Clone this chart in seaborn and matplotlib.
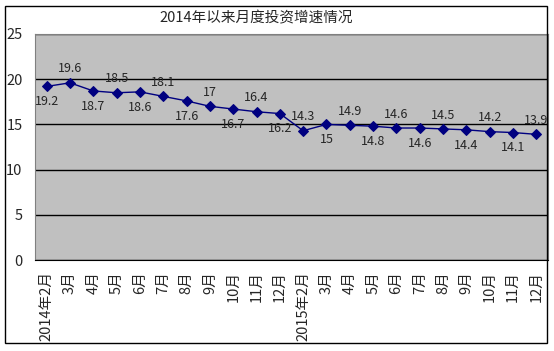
import numpy as np
import pandas as pd
import matplotlib
matplotlib.use("Agg")
import matplotlib.pyplot as plt
import seaborn as sns
from matplotlib.patches import Rectangle

# dados do gráfico
meses = ['2014年2月', '3月', '4月', '5月', '6月', '7月', '8月', '9月', '10月', '11月', '12月',
         '2015年2月', '3月', '4月', '5月', '6月', '7月', '8月', '9月', '10月', '11月', '12月']
valores = [19.2, 19.6, 18.7, 18.5, 18.6, 18.1, 17.6, 17, 16.7, 16.4, 16.2,
           14.3, 15, 14.9, 14.8, 14.6, 14.6, 14.5, 14.4, 14.2, 14.1, 13.9]
rotulos = ['19.2', '19.6', '18.7', '18.5', '18.6', '18.1', '17.6', '17', '16.7', '16.4', '16.2',
           '14.3', '15', '14.9', '14.8', '14.6', '14.6', '14.5', '14.4', '14.2', '14.1', '13.9']
titulo = '2014年以来月度投资增速情况'

sns.set_style("white")
plt.rcParams['font.family'] = ['Noto Sans CJK SC', 'DejaVu Sans']

W, H = 554, 351
fig = plt.figure(figsize=(W / 100, H / 100), dpi=100)
ax = fig.add_axes([35 / W, 1 - 260 / H, (548 - 35) / W, (260 - 34) / H])

df = pd.DataFrame({'pos': np.arange(len(meses)), 'valor': valores})
sns.lineplot(data=df, x='pos', y='valor', ax=ax, color='#000080', marker='D',
             markersize=5, markeredgecolor='#000080', linewidth=1)

# rótulos alternando embaixo / em cima
for i, (v, r) in enumerate(zip(valores, rotulos)):
    dy = -11 if i % 2 == 0 else 10
    ax.annotate(r, (i, v), xytext=(0, dy), textcoords='offset points',
                ha='center', va='center', fontsize=9)

ax.set_facecolor('#C0C0C0')
ax.set_xlim(-0.5, len(meses) - 0.5)
ax.set_ylim(0, 25)
ax.set_yticks([0, 5, 10, 15, 20, 25])
ax.yaxis.grid(True, color='black', linewidth=1)
ax.set_axisbelow(True)
ax.tick_params(axis='y', length=0, pad=9, labelsize=10.5)

ax.set_xticks(np.arange(len(meses)))
ax.set_xticklabels(meses, rotation=90, fontsize=10.5)
ax.tick_params(axis='x', which='major', length=0, pad=8)
ax.set_xticks(np.arange(len(meses) + 1) - 0.5, minor=True)
ax.tick_params(axis='x', which='minor', direction='in', length=4, color='black')
ax.set_xlabel('')
ax.set_ylabel('')

for lado in ['left', 'top', 'right']:
    ax.spines[lado].set_color('#808080')
ax.spines['bottom'].set_color('black')

fig.text(256 / W, 1 - 18 / H, titulo, ha='center', va='center', fontsize=10.5)

# moldura do gráfico
fig.patches.append(Rectangle((5 / W, 1 - 343 / H), (547 - 5) / W, (343 - 6) / H,
                             transform=fig.transFigure, fill=False,
                             edgecolor='black', linewidth=1))

fig.savefig('out.png', dpi=100)
